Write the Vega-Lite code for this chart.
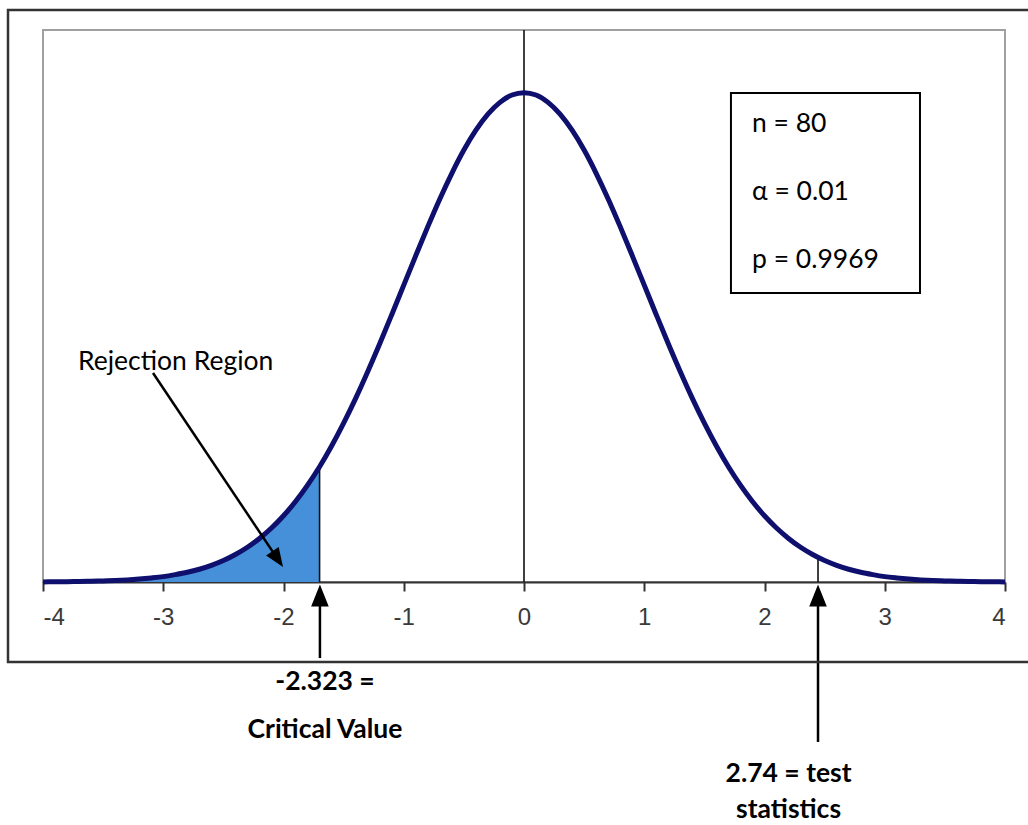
{
  "$schema": "https://vega.github.io/schema/vega-lite/v6.json",
  "width": 962,
  "height": 552,
  "autosize": {"type": "none"},
  "padding": {"left": 43, "top": 30, "right": 23, "bottom": 243},
  "background": "white",
  "config": {
    "view": {"stroke": "#a0a0a0", "strokeWidth": 2},
    "axis": {"grid": false}
  },
  "datasets": {
    "curve": [
      {"x": -4.0, "y": 0.0001}, {"x": -3.9, "y": 0.0002}, {"x": -3.8, "y": 0.0003}, {"x": -3.7, "y": 0.0004}, {"x": -3.6, "y": 0.0006},
      {"x": -3.5, "y": 0.0009}, {"x": -3.4, "y": 0.0012}, {"x": -3.3, "y": 0.0017}, {"x": -3.2, "y": 0.0024}, {"x": -3.1, "y": 0.0033},
      {"x": -3.0, "y": 0.0044}, {"x": -2.9, "y": 0.0060}, {"x": -2.8, "y": 0.0079}, {"x": -2.7, "y": 0.0104}, {"x": -2.6, "y": 0.0136},
      {"x": -2.5, "y": 0.0175}, {"x": -2.4, "y": 0.0224}, {"x": -2.3, "y": 0.0283}, {"x": -2.2, "y": 0.0355}, {"x": -2.1, "y": 0.0440},
      {"x": -2.0, "y": 0.0540}, {"x": -1.9, "y": 0.0656}, {"x": -1.8, "y": 0.0790}, {"x": -1.7, "y": 0.0940}, {"x": -1.6, "y": 0.1109},
      {"x": -1.5, "y": 0.1295}, {"x": -1.4, "y": 0.1497}, {"x": -1.3, "y": 0.1714}, {"x": -1.2, "y": 0.1942}, {"x": -1.1, "y": 0.2179},
      {"x": -1.0, "y": 0.2420}, {"x": -0.9, "y": 0.2661}, {"x": -0.8, "y": 0.2897}, {"x": -0.7, "y": 0.3123}, {"x": -0.6, "y": 0.3332},
      {"x": -0.5, "y": 0.3521}, {"x": -0.4, "y": 0.3683}, {"x": -0.3, "y": 0.3814}, {"x": -0.2, "y": 0.3910}, {"x": -0.1, "y": 0.3970},
      {"x": 0.0, "y": 0.3989},
      {"x": 0.1, "y": 0.3970}, {"x": 0.2, "y": 0.3910}, {"x": 0.3, "y": 0.3814}, {"x": 0.4, "y": 0.3683}, {"x": 0.5, "y": 0.3521},
      {"x": 0.6, "y": 0.3332}, {"x": 0.7, "y": 0.3123}, {"x": 0.8, "y": 0.2897}, {"x": 0.9, "y": 0.2661}, {"x": 1.0, "y": 0.2420},
      {"x": 1.1, "y": 0.2179}, {"x": 1.2, "y": 0.1942}, {"x": 1.3, "y": 0.1714}, {"x": 1.4, "y": 0.1497}, {"x": 1.5, "y": 0.1295},
      {"x": 1.6, "y": 0.1109}, {"x": 1.7, "y": 0.0940}, {"x": 1.8, "y": 0.0790}, {"x": 1.9, "y": 0.0656}, {"x": 2.0, "y": 0.0540},
      {"x": 2.1, "y": 0.0440}, {"x": 2.2, "y": 0.0355}, {"x": 2.3, "y": 0.0283}, {"x": 2.4, "y": 0.0224}, {"x": 2.5, "y": 0.0175},
      {"x": 2.6, "y": 0.0136}, {"x": 2.7, "y": 0.0104}, {"x": 2.8, "y": 0.0079}, {"x": 2.9, "y": 0.0060}, {"x": 3.0, "y": 0.0044},
      {"x": 3.1, "y": 0.0033}, {"x": 3.2, "y": 0.0024}, {"x": 3.3, "y": 0.0017}, {"x": 3.4, "y": 0.0012}, {"x": 3.5, "y": 0.0009},
      {"x": 3.6, "y": 0.0006}, {"x": 3.7, "y": 0.0004}, {"x": 3.8, "y": 0.0003}, {"x": 3.9, "y": 0.0002}, {"x": 4.0, "y": 0.0001}
    ],
    "shade": [
      {"x": -4.0, "y": 0.0001}, {"x": -3.9, "y": 0.0002}, {"x": -3.8, "y": 0.0003}, {"x": -3.7, "y": 0.0004}, {"x": -3.6, "y": 0.0006},
      {"x": -3.5, "y": 0.0009}, {"x": -3.4, "y": 0.0012}, {"x": -3.3, "y": 0.0017}, {"x": -3.2, "y": 0.0024}, {"x": -3.1, "y": 0.0033},
      {"x": -3.0, "y": 0.0044}, {"x": -2.9, "y": 0.0060}, {"x": -2.8, "y": 0.0079}, {"x": -2.7, "y": 0.0104}, {"x": -2.6, "y": 0.0136},
      {"x": -2.5, "y": 0.0175}, {"x": -2.4, "y": 0.0224}, {"x": -2.3, "y": 0.0283}, {"x": -2.2, "y": 0.0355}, {"x": -2.1, "y": 0.0440},
      {"x": -2.0, "y": 0.0540}, {"x": -1.9, "y": 0.0656}, {"x": -1.8, "y": 0.0790}, {"x": -1.7, "y": 0.0940}
    ],
    "vlines": [
      {"x": 0, "y": 0, "y2": 0.45},
      {"x": -1.7, "y": 0, "y2": 0.094},
      {"x": 2.445, "y": 0, "y2": 0.020}
    ],
    "shafts": [
      {"x": -1.697, "y": -0.062, "x2": -1.697, "y2": -0.006},
      {"x": 2.445, "y": -0.1304, "x2": 2.445, "y2": -0.006},
      {"x": -3.085, "y": 0.1704, "x2": -2.03, "y2": 0.016}
    ],
    "vheads": [
      {"x": -1.697, "y": -0.002},
      {"x": 2.445, "y": -0.002}
    ],
    "dhead": [
      {"x": -2.004, "y": 0.0122}
    ],
    "box": [
      {"x": 1.721, "x2": 3.293, "y": 0.3986, "y2": 0.2356}
    ],
    "frame": [
      {"x": -4.291, "x2": 4.35, "y": 0.4663, "y2": -0.0652}
    ],
    "boxtext": [
      {"x": 1.896, "y": 0.3668, "label": "n = 80"},
      {"x": 1.896, "y": 0.3114, "label": "α = 0.01"},
      {"x": 1.896, "y": 0.2560, "label": "p = 0.9969"},
      {"x": -3.709, "y": 0.1728, "label": "Rejection Region"}
    ],
    "boldtext": [
      {"x": -1.655, "y": -0.088, "label": "-2.323 ="},
      {"x": -1.655, "y": -0.1272, "label": "Critical Value"},
      {"x": 2.20, "y": -0.1628, "label": "2.74 = test"},
      {"x": 2.20, "y": -0.1925, "label": "statistics"}
    ]
  },
  "layer": [
    {
      "data": {"name": "shade"},
      "mark": {"type": "area", "color": "#4590d8", "interpolate": "monotone"},
      "encoding": {
        "x": {"field": "x", "type": "quantitative", "scale": {"domain": [-4, 4], "nice": false, "zero": false},
          "axis": {"values": [-4, -3, -2, -1, 0, 1, 2, 3, 4], "title": null, "tickSize": 9, "tickWidth": 2, "tickColor": "#333",
            "domainColor": "#333", "domainWidth": 2, "labelFont": "Liberation Sans", "labelFontSize": 24, "labelColor": "#3a3a3a",
            "labelPadding": 14, "labelExpr": "datum.value < 0 ? '-' + abs(datum.value) : '' + datum.value"}},
        "y": {"field": "y", "type": "quantitative", "scale": {"domain": [0, 0.45], "nice": false}, "axis": null}
      }
    },
    {
      "data": {"name": "vlines"},
      "mark": {"type": "rule", "color": "#111", "strokeWidth": 1.6},
      "encoding": {
        "x": {"field": "x", "type": "quantitative"},
        "y": {"field": "y", "type": "quantitative"},
        "y2": {"field": "y2"}
      }
    },
    {
      "data": {"name": "curve"},
      "mark": {"type": "line", "color": "#0f0f6e", "strokeWidth": 5, "interpolate": "monotone"},
      "encoding": {
        "x": {"field": "x", "type": "quantitative"},
        "y": {"field": "y", "type": "quantitative"}
      }
    },
    {
      "data": {"name": "shafts"},
      "mark": {"type": "rule", "color": "#000", "strokeWidth": 2.5},
      "encoding": {
        "x": {"field": "x", "type": "quantitative"},
        "y": {"field": "y", "type": "quantitative"},
        "x2": {"field": "x2"},
        "y2": {"field": "y2"}
      }
    },
    {
      "data": {"name": "vheads"},
      "mark": {"type": "point", "shape": "M0,0L0.4,1L-0.4,1Z", "filled": true, "color": "#000", "opacity": 1, "size": 1936, "strokeWidth": 0},
      "encoding": {
        "x": {"field": "x", "type": "quantitative"},
        "y": {"field": "y", "type": "quantitative"}
      }
    },
    {
      "data": {"name": "dhead"},
      "mark": {"type": "point", "shape": "M0,0L0.4,1L-0.4,1Z", "filled": true, "color": "#000", "opacity": 1, "size": 1444, "angle": 146, "strokeWidth": 0},
      "encoding": {
        "x": {"field": "x", "type": "quantitative"},
        "y": {"field": "y", "type": "quantitative"}
      }
    },
    {
      "data": {"name": "box"},
      "mark": {"type": "rect", "fill": "white", "stroke": "#000", "strokeWidth": 2},
      "encoding": {
        "x": {"field": "x", "type": "quantitative"},
        "x2": {"field": "x2"},
        "y": {"field": "y", "type": "quantitative"},
        "y2": {"field": "y2"}
      }
    },
    {
      "data": {"name": "frame"},
      "mark": {"type": "rect", "fill": null, "fillOpacity": 0, "stroke": "#333", "strokeWidth": 2.5},
      "encoding": {
        "x": {"field": "x", "type": "quantitative"},
        "x2": {"field": "x2"},
        "y": {"field": "y", "type": "quantitative"},
        "y2": {"field": "y2"}
      }
    },
    {
      "data": {"name": "boxtext"},
      "mark": {"type": "text", "font": "Lato", "fontSize": 26.5, "color": "#000", "align": "left", "baseline": "alphabetic"},
      "encoding": {
        "x": {"field": "x", "type": "quantitative"},
        "y": {"field": "y", "type": "quantitative"},
        "text": {"field": "label"}
      }
    },
    {
      "data": {"name": "boldtext"},
      "mark": {"type": "text", "font": "Lato", "fontSize": 26.5, "fontWeight": "bold", "color": "#000", "align": "center", "baseline": "alphabetic"},
      "encoding": {
        "x": {"field": "x", "type": "quantitative"},
        "y": {"field": "y", "type": "quantitative"},
        "text": {"field": "label"}
      }
    }
  ]
}
